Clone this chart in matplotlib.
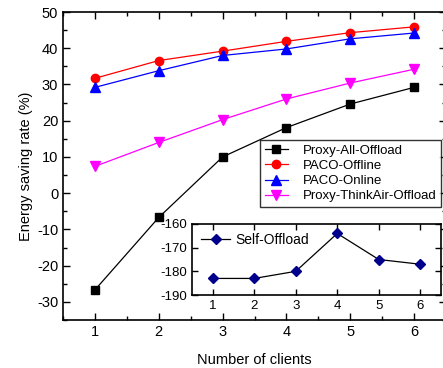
import matplotlib
matplotlib.use('Agg')
import matplotlib.pyplot as plt
from matplotlib.ticker import MultipleLocator

plt.rcParams['font.family'] = ['Liberation Sans', 'DejaVu Sans']
plt.rcParams['axes.unicode_minus'] = False
plt.rcParams['xtick.direction'] = 'in'
plt.rcParams['ytick.direction'] = 'in'

# Energy saving rate per number of clients
clients = [1, 2, 3, 4, 5, 6]
proxy_all = [-26.7, -6.7, 10.0, 18.1, 24.6, 29.2]
paco_offline = [31.7, 36.6, 39.2, 41.9, 44.3, 45.9]
paco_online = [29.2, 33.8, 38.0, 39.8, 42.6, 44.2]
proxy_thinkair = [7.4, 14.0, 20.3, 26.0, 30.4, 34.2]
self_offload = [-183, -183, -180, -164, -175, -177]

W, H = 443, 368
fig = plt.figure(figsize=(W / 100, H / 100), dpi=100)

# main axes (right spine sits just past the image edge)
ax = fig.add_axes([63 / W, 1 - 320 / H, (446 - 63) / W, (320 - 12) / H])
ax.plot(clients, proxy_all, color='black', marker='s', ms=5.2, lw=0.9, label='Proxy-All-Offload')
ax.plot(clients, paco_offline, color='red', marker='o', ms=6, lw=0.9, label='PACO-Offline')
ax.plot(clients, paco_online, color='blue', marker='^', ms=6.5, lw=0.9, label='PACO-Online')
ax.plot(clients, proxy_thinkair, color='magenta', marker='v', ms=6.5, lw=0.9, label='Proxy-ThinkAir-Offload')

ax.set_xlim(0.5, 6.5)
ax.set_ylim(-35, 50)
ax.xaxis.set_major_locator(MultipleLocator(1))
ax.xaxis.set_minor_locator(MultipleLocator(0.5))
ax.yaxis.set_major_locator(MultipleLocator(10))
ax.yaxis.set_minor_locator(MultipleLocator(5))
ax.tick_params(which='both', top=True, right=True, labelsize=10.5, width=1)
ax.tick_params(which='major', length=5)
ax.tick_params(which='minor', length=3)
for s in ax.spines.values():
    s.set_linewidth(1.2)
ax.set_xlabel('Number of clients', fontsize=10.5, labelpad=10)
ax.set_ylabel('Energy saving rate (%)', fontsize=10.5, labelpad=3)

leg = ax.legend(loc='upper left', bbox_to_anchor=(260 / W, 1 - 140 / H),
                bbox_transform=fig.transFigure, fontsize=9.5, frameon=True,
                fancybox=False, edgecolor='black', borderpad=0.35,
                labelspacing=0.22, handlelength=1.8, handletextpad=1.1,
                borderaxespad=0)
leg.get_frame().set_linewidth(1)

# inset for the self-offload baseline
ins = fig.add_axes([192 / W, 1 - 295 / H, (441 - 192) / W, (295 - 224) / H])
ins.plot(clients, self_offload, color='black', lw=0.9, marker='D', ms=5,
         markerfacecolor='#00008b', markeredgecolor='#00008b', label='Self-Offload')
ins.set_xlim(0.5, 6.5)
ins.set_ylim(-190, -160)
ins.xaxis.set_major_locator(MultipleLocator(1))
ins.yaxis.set_major_locator(MultipleLocator(10))
ins.tick_params(which='both', top=True, right=True, labelsize=9.5, length=4, width=1)
for s in ins.spines.values():
    s.set_linewidth(1.2)
ins.legend(loc='upper left', fontsize=10, frameon=False, handlelength=2.1,
           handletextpad=0.35, borderaxespad=0.25)

fig.savefig('out.png', dpi=100)
